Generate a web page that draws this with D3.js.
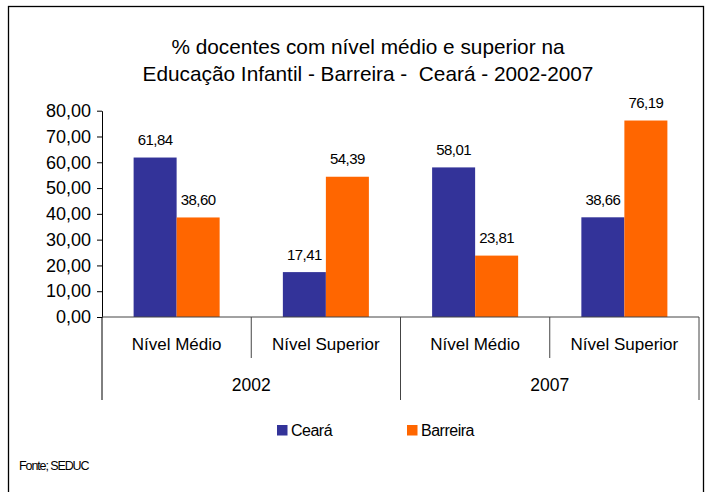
<!DOCTYPE html>
<html><head><meta charset="utf-8">
<script src="https://cdn.jsdelivr.net/npm/d3@7"></script>
<style>
html,body{margin:0;padding:0;background:#fff;}
svg{display:block;font-family:Arial,"Liberation Sans",sans-serif;}
text{white-space:pre;}
</style></head>
<body>
<svg id="chart" width="713" height="492"></svg>
<script>
const titleLines = ["% docentes com nível médio e superior na", "Educação Infantil - Barreira -  Ceará - 2002-2007"];
const years = ["2002", "2007"];
const levels = ["Nível Médio", "Nível Superior"];
const seriesNames = ["Ceará", "Barreira"];
const cearaValues = [61.84, 17.41, 58.01, 38.66];
const barreiraValues = [38.60, 54.39, 23.81, 76.19];
const yTicks = [0, 10, 20, 30, 40, 50, 60, 70, 80];
const sourceText = "Fonte; SEDUC";
const colors = ["#333399", "#FF6600"];

const svg = d3.select("#chart");
const fmt = v => d3.format(".2f")(v).replace(".", ",");

// frame
svg.append("rect").attr("x", 8.5).attr("y", 6.5).attr("width", 695).attr("height", 500)
  .attr("fill", "none").attr("stroke", "#000").attr("stroke-width", 1.3);

// title
svg.selectAll("text.title").data(titleLines).join("text").attr("class", "title")
  .attr("x", 368).attr("y", (d, i) => 54 + i * 27)
  .attr("text-anchor", "middle").attr("font-size", 20.8).attr("fill", "#000")
  .text(d => d);

// categories
const cats = [];
years.forEach(yr => levels.forEach(lv => cats.push({ year: yr, level: lv })));
cats.forEach((c, i) => { c.key = i; c.values = [cearaValues[i], barreiraValues[i]]; });

const x0 = d3.scaleBand().domain(cats.map(c => c.key)).range([102, 699]).padding(0);
const x1 = d3.scaleBand().domain(seriesNames).range([0, x0.bandwidth()]).paddingInner(0).paddingOuter(0.735);
const y = d3.scaleLinear().domain([0, 80]).range([317, 110.7]);

// bars
const g = svg.append("g");
const groups = g.selectAll("g.cat").data(cats).join("g").attr("class", "cat")
  .attr("transform", d => `translate(${x0(d.key)},0)`);
groups.selectAll("rect").data(d => d.values.map((v, j) => ({ v, s: seriesNames[j], j })))
  .join("rect")
  .attr("x", d => x1(d.s)).attr("width", x1.bandwidth())
  .attr("y", d => y(d.v)).attr("height", d => y(0) - y(d.v))
  .attr("fill", d => colors[d.j]);
groups.selectAll("text.lbl").data(d => d.values.map((v, j) => ({ v, s: seriesNames[j], j })))
  .join("text").attr("class", "lbl")
  .attr("x", d => x1(d.s) + x1.bandwidth() / 2)
  .attr("y", d => y(d.v) - 12.5)
  .attr("text-anchor", "middle").attr("font-size", 15).attr("letter-spacing", -0.6)
  .attr("fill", "#000").text(d => fmt(d.v));

// y axis
const yAxis = d3.axisLeft(y).tickValues(yTicks).tickSize(5).tickSizeOuter(0).tickPadding(6).tickFormat(fmt);
const ya = svg.append("g").attr("transform", "translate(102,0)").call(yAxis);
ya.select(".domain").attr("stroke", "#000").attr("stroke-width", 1);
ya.selectAll(".tick line").attr("stroke", "#000");
ya.selectAll(".tick text").attr("font-size", 18).attr("font-family", "Arial, 'Liberation Sans', sans-serif").attr("fill", "#000");

// x axis line
const [xs, xe] = x0.range();
svg.append("line").attr("x1", xs).attr("x2", xe).attr("y1", y(0)).attr("y2", y(0))
  .attr("stroke", "#444").attr("stroke-width", 1);
// separators
const step = x0.step();
d3.range(cats.length + 1).forEach(i => {
  svg.append("line").attr("x1", xs + i * step).attr("x2", xs + i * step)
    .attr("y1", y(0)).attr("y2", i % 2 === 0 ? 400 : 358)
    .attr("stroke", i === 0 ? "#000" : "#444").attr("stroke-width", 1);
});
// level labels
svg.selectAll("text.lvl").data(cats).join("text").attr("class", "lvl")
  .attr("x", d => x0(d.key) + x0.bandwidth() / 2).attr("y", 350)
  .attr("text-anchor", "middle").attr("font-size", 17).attr("fill", "#000")
  .text(d => d.level);
// year labels
svg.selectAll("text.yr").data(years).join("text").attr("class", "yr")
  .attr("x", (d, i) => xs + step * (2 * i + 1)).attr("y", 391)
  .attr("text-anchor", "middle").attr("font-size", 17.5).attr("fill", "#000")
  .text(d => d);

// legend
const legX = [277, 407];
const leg = svg.selectAll("g.leg").data(seriesNames).join("g").attr("class", "leg")
  .attr("transform", (d, i) => `translate(${legX[i]},425)`);
leg.append("rect").attr("width", 10.5).attr("height", 10.5).attr("fill", (d, i) => colors[i]);
leg.append("text").attr("x", 14).attr("y", 11).attr("font-size", 16).attr("letter-spacing", -0.5)
  .attr("fill", "#000").text(d => d);

// source
svg.append("text").attr("x", 19).attr("y", 470).attr("font-size", 12.5).attr("letter-spacing", -1.1)
  .attr("fill", "#000").text(sourceText);
</script>
</body></html>
